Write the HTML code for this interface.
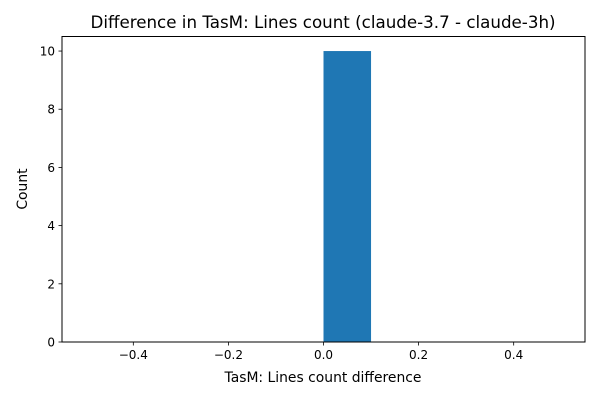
<!DOCTYPE html>
<html><head><meta charset="utf-8"><style>
body{margin:0;background:#fff;}
svg text{font-family:"DejaVu Sans","Liberation Sans",sans-serif;fill:#000;}
</style></head><body>
<svg id="chart" width="600" height="400" xmlns="http://www.w3.org/2000/svg">
<rect width="600" height="400" fill="#fff"/>
<text x="323" y="28" font-size="16.7" text-anchor="middle">Difference in TasM: Lines count (claude-3.7 - claude-3h)</text>
<text x="323" y="382" font-size="13.9" text-anchor="middle">TasM: Lines count difference</text>
<text x="27" y="189" font-size="13.9" text-anchor="middle" transform="rotate(-90 27 189)">Count</text>
<g id="bars"></g><g id="xticks"></g><g id="yticks"></g>
<rect x="62" y="36.5" width="523" height="305.5" fill="none" stroke="#000" stroke-width="1"/>
</svg>
<script>
const binEdgesLeft=[0.0];
const binEdgesRight=[0.1];
const counts=[10];
const xTicks=[-0.4,-0.2,0.0,0.2,0.4];
const xTickLabels=["\u22120.4","\u22120.2","0.0","0.2","0.4"];
const yTicks=[0,2,4,6,8,10];
const yTickLabels=["0","2","4","6","8","10"];
const L=62,R=585,T=36.5,B=342,xmin=-0.55,xmax=0.55,ymin=0,ymax=10.5;
const sx=v=>L+(v-xmin)/(xmax-xmin)*(R-L);
const sy=v=>B-(v-ymin)/(ymax-ymin)*(B-T);
const NS="http://www.w3.org/2000/svg";
function mk(tag,attrs,parent){const e=document.createElementNS(NS,tag);for(const k in attrs)e.setAttribute(k,attrs[k]);parent.appendChild(e);return e;}
const bars=document.getElementById('bars');
counts.forEach((c,i)=>{
 const r=mk('rect',{x:sx(binEdgesLeft[i]),y:sy(c),width:sx(binEdgesRight[i])-sx(binEdgesLeft[i]),height:sy(0)-sy(c),fill:'#1f77b4'},bars);
 
 
});
const xt=document.getElementById('xticks');
xTicks.forEach((v,i)=>{
 const x=sx(v);
 const l=mk('line',{x1:x,x2:x,y1:B,y2:B+3.5,stroke:'#000','stroke-width':0.8},xt);
 
 
 const t=mk('text',{x:x,y:B+17,'font-size':12,'text-anchor':'middle'},xt);
 t.textContent=xTickLabels[i];
 
 
});
const yt=document.getElementById('yticks');
yTicks.forEach((v,i)=>{
 const y=sy(v);
 const l=mk('line',{x1:L-3.5,x2:L,y1:y,y2:y,stroke:'#000','stroke-width':0.8},yt);
 
 
 const t=mk('text',{x:L-7,y:y+4.5,'font-size':12,'text-anchor':'end'},yt);
 t.textContent=yTickLabels[i];
 
 
});
</script>
</body></html>
